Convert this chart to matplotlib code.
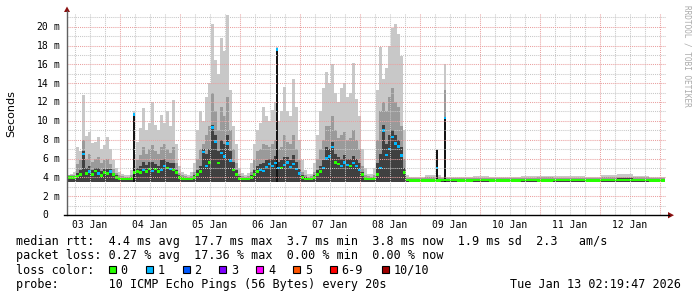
import numpy as np
import matplotlib
matplotlib.use("Agg")
import matplotlib.pyplot as plt
from matplotlib.patches import Rectangle, Polygon
from matplotlib.lines import Line2D
from matplotlib.transforms import blended_transform_factory, offset_copy

# ---------------------------------------------------------------- data
# hours since 03 Jan 00:00; busy part sampled every 1.2 h
busy_start_h = 2.8
busy_step_h = 1.2
busy_median = [4.0, 4.0, 4.0, 4.1, 4.3, 6.5, 4.4, 4.6, 4.3, 4.7, 4.4, 4.2, 4.5, 4.4, 4.6, 4.3, 4.0, 3.9, 3.8, 3.8, 3.8, 3.9,
               4.5, 4.6, 4.5, 4.8, 4.6, 4.9, 4.7, 4.9, 4.6, 4.8, 5.2, 5.0, 4.9, 4.8, 4.5, 4.0, 3.9, 3.8, 3.8, 3.8,
               4.0, 4.3, 4.6, 6.7, 5.2, 5.6, 9.3, 7.8, 5.5, 6.6, 6.2, 7.6, 5.8, 4.8, 4.3, 3.9, 3.8, 3.8, 3.8,
               4.0, 4.3, 4.6, 4.8, 4.7, 5.1, 5.4, 5.2, 5.5, 5.0, 5.0, 5.3, 5.6, 5.1, 5.4, 4.9, 4.4, 4.0, 3.8, 3.8, 3.8,
               4.0, 4.3, 4.6, 5.0, 6.0, 6.2, 7.2, 5.6, 5.4, 5.2, 5.6, 5.3, 5.2, 5.5, 5.2, 4.8, 4.3, 3.9, 3.8, 3.8, 3.9,
               4.3, 5.0, 9.0, 6.4, 7.0, 8.3, 7.6, 7.3, 6.3, 4.5, 3.7]
busy_max = [4.3, 4.4, 4.6, 7.2, 6.8, 12.7, 8.4, 8.8, 7.6, 7.8, 8.3, 7.0, 7.4, 8.3, 7.0, 5.8, 5.0, 4.6, 4.4, 4.2, 4.3, 4.8,
            6.5, 7.8, 9.2, 11.4, 9.0, 9.8, 12.0, 9.6, 9.0, 10.6, 9.8, 11.0, 9.5, 12.2, 7.5, 5.2, 4.6, 4.4, 4.3, 4.6,
            5.5, 9.0, 11.0, 10.0, 12.5, 14.0, 20.3, 16.5, 15.0, 18.8, 17.4, 21.3, 13.3, 9.5, 7.5, 5.0, 4.5, 4.3, 4.5,
            5.5, 7.5, 9.0, 9.8, 11.5, 10.5, 10.0, 11.2, 12.0, 10.0, 11.0, 13.6, 11.0, 10.5, 14.5, 11.5, 8.0, 5.8, 4.8, 4.4, 4.4,
            5.5, 8.5, 11.0, 13.5, 15.2, 14.0, 16.0, 13.0, 12.0, 13.5, 14.0, 12.5, 13.0, 16.2, 12.3, 10.5, 7.0, 5.0, 4.4, 4.4, 5.0,
            13.3, 17.8, 14.4, 15.6, 18.0, 19.9, 20.3, 19.2, 16.9, 9.0, 4.2]
busy_mid = [4.2, 4.2, 4.3, 5.4, 5.8, 8.0, 6.0, 6.5, 5.6, 6.0, 6.2, 5.5, 5.8, 6.0, 5.4, 4.9, 4.5, 4.2, 4.1, 4.0, 4.0, 4.3,
            5.2, 5.8, 6.4, 7.2, 6.5, 7.0, 7.4, 6.8, 6.5, 7.2, 7.5, 7.0, 6.6, 7.2, 5.5, 4.5, 4.2, 4.1, 4.0, 4.1,
            4.6, 6.0, 7.0, 7.5, 8.5, 9.5, 13.0, 11.0, 9.0, 11.5, 10.5, 12.5, 9.0, 7.0, 5.5, 4.4, 4.1, 4.0, 4.1,
            4.6, 5.8, 6.8, 7.0, 7.5, 7.4, 7.2, 7.5, 8.0, 7.0, 7.2, 8.5, 7.8, 7.5, 8.5, 7.0, 5.8, 4.6, 4.2, 4.0, 4.1,
            4.6, 6.0, 7.0, 8.0, 9.5, 9.5, 10.5, 9.0, 8.2, 8.5, 8.8, 8.0, 8.2, 9.0, 8.0, 7.0, 5.2, 4.3, 4.1, 4.0, 4.3,
            8.0, 11.0, 12.0, 11.0, 12.5, 13.5, 12.0, 11.5, 9.5, 6.0, 3.9]
busy_core = [4.1, 4.1, 4.1, 4.5, 4.8, 6.8, 5.0, 5.2, 4.8, 5.0, 5.0, 4.7, 4.9, 4.9, 4.9, 4.5, 4.2, 4.0, 3.9, 3.9, 3.9, 4.0,
             4.7, 5.0, 5.2, 5.6, 5.3, 5.6, 5.6, 5.4, 5.2, 5.8, 6.0, 5.6, 5.5, 5.5, 4.8, 4.2, 4.0, 3.9, 3.9, 3.9,
             4.2, 4.8, 5.2, 7.0, 6.5, 7.0, 9.6, 8.5, 6.8, 8.0, 7.5, 8.5, 6.8, 5.6, 4.8, 4.1, 3.9, 3.9, 3.9,
             4.2, 4.8, 5.2, 5.4, 5.5, 5.8, 6.0, 6.0, 6.3, 5.6, 5.8, 6.2, 6.2, 5.8, 6.4, 5.6, 4.9, 4.2, 4.0, 3.9, 3.9,
             4.2, 4.8, 5.2, 5.8, 7.2, 7.0, 7.8, 6.5, 6.2, 6.0, 6.4, 6.0, 6.0, 6.3, 6.0, 5.5, 4.6, 4.0, 3.9, 3.9, 4.0,
             5.5, 6.5, 9.6, 7.5, 8.5, 9.0, 8.5, 8.0, 7.2, 5.0, 3.8]
busy_loss = [0, 0, 0, 0, 0, 1, 0, 1, 0, 0, 1, 0, 0, 0, 1, 0, 0, 0, 0, 0, 0, 0,
             0, 0, 0, 1, 0, 0, 1, 0, 0, 1, 1, 0, 1, 0, 0, 0, 0, 0, 0, 0,
             0, 0, 0, 1, 1, 0, 1, 1, 0, 1, 1, 1, 1, 0, 0, 0, 0, 0, 0,
             0, 0, 0, 1, 1, 1, 1, 1, 1, 1, 0, 1, 1, 1, 1, 1, 1, 0, 0, 0, 0,
             0, 0, 0, 1, 1, 1, 1, 0, 0, 1, 1, 1, 0, 1, 1, 1, 0, 0, 0, 0, 0,
             0, 1, 1, 1, 1, 1, 1, 1, 1, 0, 0]

# calm part (09 Jan .. 13 Jan) sampled every 6.4 h
calm_start_h = 139.6
calm_step_h = 6.4
calm_median = [3.68, 3.68, 3.70, 3.68, 3.70, 3.68, 3.68, 3.70, 3.68, 3.70, 3.70, 3.68, 3.70, 3.72, 3.70, 3.68]
calm_max = [4.05, 4.2, 4.05, 4.05, 4.1, 4.05, 4.05, 4.1, 4.15, 4.1, 4.1, 4.05, 4.2, 4.35, 4.15, 4.05]
calm_mid = [3.95, 4.0, 3.95, 3.95, 3.95, 3.95, 3.95, 3.95, 4.0, 3.95, 3.95, 3.95, 4.0, 4.05, 4.0, 3.95]
calm_core = [3.85, 3.85, 3.85, 3.85, 3.85, 3.85, 3.85, 3.85, 3.85, 3.85, 3.85, 3.85, 3.85, 3.9, 3.85, 3.85]
calm_loss = [0, 0, 0, 0, 0, 0, 0, 0, 0, 0, 0, 0, 0, 0, 0, 0]

# narrow black bursts (04 Jan, 06 Jan, two on 09 Jan)
spike_h = [29.6, 86.6, 150.8, 154.0]
spike_width_h = 0.8
spike_median = [10.7, 17.6, 5.0, 10.3]
spike_max = [11.0, 17.8, 7.0, 16.0]
spike_mid = [10.8, 17.7, 6.9, 13.3]
spike_core = [10.8, 17.7, 6.9, 10.3]
spike_loss = [1, 1, 1, 1]

rtt_floor = 3.5

day_labels = ["03 Jan", "04 Jan", "05 Jan", "06 Jan", "07 Jan", "08 Jan", "09 Jan", "10 Jan", "11 Jan", "12 Jan"]
day_label_h = [12, 36, 60, 84, 108, 132, 156, 180, 204, 228]
y_major = [0, 2, 4, 6, 8, 10, 12, 14, 16, 18, 20]

loss_labels = ["0", "1", "2", "3", "4", "5", "6-9", "10/10"]
loss_colors = ["#26ff00", "#00b8ff", "#0059ff", "#7e00ff", "#ff00ff", "#ff5500", "#ff0000", "#a00000"]

line_rtt = "median rtt:  4.4 ms avg  17.7 ms max  3.7 ms min  3.8 ms now  1.9 ms sd  2.3   am/s"
line_loss = "packet loss: 0.27 % avg  17.36 % max  0.00 % min  0.00 % now"
line_color = "loss color:"
line_probe = "probe:       10 ICMP Echo Pings (56 Bytes) every 20s"
stamp = "Tue Jan 13 02:19:47 2026"

# ---------------------------------------------------------------- figure
W, H = 697, 297
fig = plt.figure(figsize=(W / 100, H / 100), dpi=100)
fig.patch.set_facecolor("white")
MONO = "DejaVu Sans Mono"


def fx(x):
    return x / W


def fy(y):
    return 1 - y / H


AX_L, AX_R, AX_T, AX_B = 67, 666, 13, 215
ax = fig.add_axes([fx(AX_L), fy(AX_B), (AX_R - AX_L) / W, (AX_B - AX_T) / H])
ax.set_xlim(2.8, 242.4)
ax.set_ylim(0, 21.46)
ax.axis("off")

LIGHT, MID, CORE, BLACK = "#c8c8c8", "#9a9a9a", "#404040", "#141414"


def draw_block(start, step, med, mx, md, core, loss):
    n = len(med)
    edges = start + step * np.arange(n + 1)
    for vals, col in ((mx, LIGHT), (md, MID), (core, CORE)):
        ax.stairs(vals, edges, baseline=rtt_floor, fill=True, color=col, lw=0, zorder=2)
    cols = [loss_colors[l] for l in loss]
    ax.bar(edges[:-1], 0.26, bottom=np.asarray(med) - 0.13, width=step, align="edge",
           color=cols, lw=0, zorder=4)


draw_block(busy_start_h, busy_step_h, busy_median, busy_max, busy_mid, busy_core, busy_loss)
draw_block(calm_start_h, calm_step_h, calm_median, calm_max, calm_mid, calm_core, calm_loss)

lefts = np.asarray(spike_h) - spike_width_h / 2
for vals, col in ((spike_max, LIGHT), (spike_mid, MID), (spike_core, BLACK)):
    ax.bar(lefts, np.asarray(vals) - rtt_floor, bottom=rtt_floor, width=spike_width_h,
           align="edge", color=col, lw=0, zorder=3)
ax.bar(lefts, 0.26, bottom=np.asarray(spike_median) - 0.13, width=spike_width_h, align="edge",
       color=[loss_colors[l] for l in spike_loss], lw=0, zorder=4)

# grid (drawn on top, dotted like rrdtool)
dot = (0, (1, 1))
MINOR_C, MAJOR_C = "#c8c8c8", "#eaa0a0"
for h in np.arange(6, 243, 6):
    major = (h % 24 == 0)
    ax.axvline(h, color=MAJOR_C if major else MINOR_C, lw=0.75, ls=dot, zorder=5)
for v in np.arange(1, 22, 1):
    major = (v % 2 == 0)
    ax.axhline(v, color=MAJOR_C if major else MINOR_C, lw=0.75, ls=dot, zorder=5)

# axes lines + arrows
fig.add_artist(Line2D([fx(67), fx(67)], [fy(215), fy(11)], color="#606060", lw=1.0))
fig.add_artist(Line2D([fx(64), fx(669)], [fy(215.2), fy(215.2)], color="black", lw=1.0))
fig.add_artist(Polygon([(fx(64), fy(12)), (fx(70), fy(12)), (fx(67), fy(6.5))], closed=True,
                       color="#8b1010", lw=0))
fig.add_artist(Polygon([(fx(668), fy(212)), (fx(668), fy(218.4)), (fx(674), fy(215.2))], closed=True,
                       color="#8b1010", lw=0))

# y tick labels
ytrans = offset_copy(blended_transform_factory(fig.transFigure, ax.transData), fig=fig, x=0, y=-3.4, units="dots")
for v in y_major:
    fig.text(fx(48.5), v, f"{v}", ha="right", va="baseline", family=MONO, fontsize=7, transform=ytrans)
    if v != 0:
        fig.text(fx(53.5), v, "m", ha="left", va="baseline", family=MONO, fontsize=7, transform=ytrans)

# x tick labels
xtrans = blended_transform_factory(ax.transData, fig.transFigure)
for h, lab in zip(day_label_h, day_labels):
    fig.text(h, fy(228.3), lab, ha="center", va="baseline", family=MONO, fontsize=7, transform=xtrans)

fig.text(fx(11), fy(114), "Seconds", rotation=90, ha="center", va="center", family="DejaVu Sans", fontsize=8)
fig.text(fx(687), fy(5), "RRDTOOL / TOBI OETIKER", rotation=270, ha="center", va="top",
         family=MONO, fontsize=5.6, color="#aaaaaa")

# legend lines
FS = 8.5
fig.text(fx(16), fy(245), line_rtt, ha="left", va="baseline", family=MONO, fontsize=FS)
fig.text(fx(16), fy(259.4), line_loss, ha="left", va="baseline", family=MONO, fontsize=FS)
fig.text(fx(16), fy(273.6), line_color, ha="left", va="baseline", family=MONO, fontsize=FS)
fig.text(fx(16), fy(288), line_probe, ha="left", va="baseline", family=MONO, fontsize=FS)
fig.text(fx(681), fy(288), stamp, ha="right", va="baseline", family=MONO, fontsize=FS)

box_x = [108.5, 145.5, 182.5, 219.3, 256.2, 293.0, 329.5, 382.0]
for bx, lab, col in zip(box_x, loss_labels, loss_colors):
    fig.add_artist(Rectangle((fx(bx), fy(273)), 7 / W, 7 / H, facecolor=col, edgecolor="black", lw=0.8))
    fig.text(fx(bx + 12), fy(273.6), lab, ha="left", va="baseline", family=MONO, fontsize=FS)

fig.savefig("out.png", dpi=100, facecolor="white")
